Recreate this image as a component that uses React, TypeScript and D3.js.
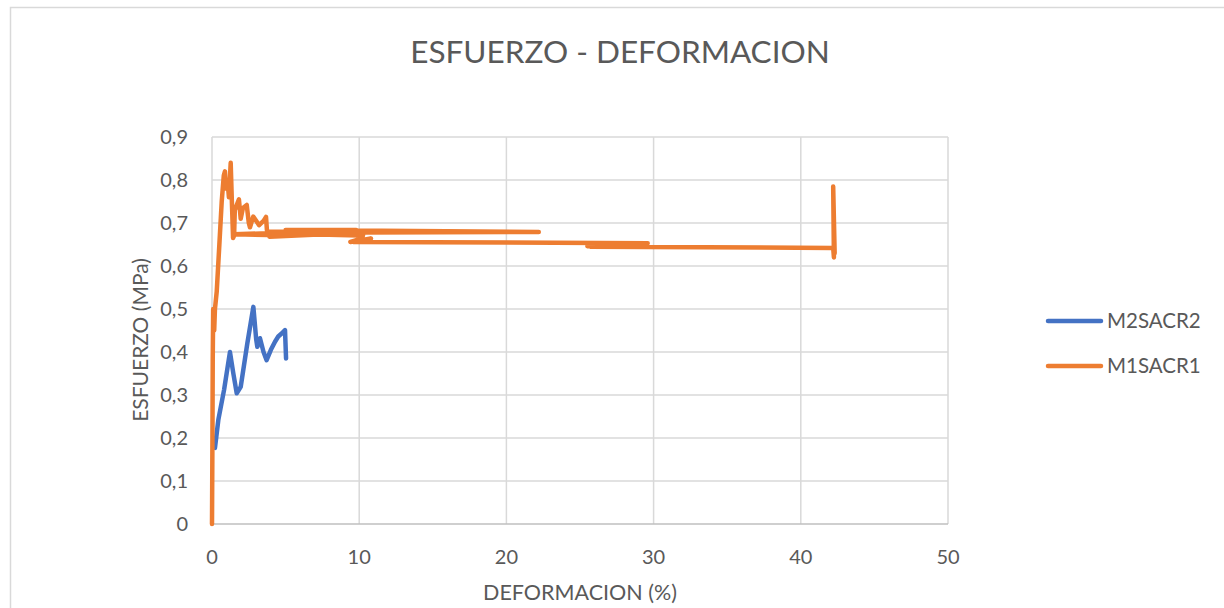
import React from 'react';
import * as d3 from 'd3';

// deformacion (%) / esfuerzo (MPa)
const m2x = [0.2, 0.43, 0.82, 1.22, 1.45, 1.68, 1.95, 2.4, 2.81, 3.0, 3.08, 3.26, 3.5, 3.71, 4.0, 4.28, 4.5, 4.73, 4.96, 5.03];
const m2y = [0.177, 0.242, 0.312, 0.4, 0.35, 0.304, 0.319, 0.42, 0.505, 0.43, 0.412, 0.432, 0.4, 0.381, 0.405, 0.424, 0.436, 0.443, 0.451, 0.385];

const m1x = [0, 0.03, 0.05, 0.08, 0.12, 0.15, 0.2, 0.32, 0.5, 0.66, 0.8, 0.88, 0.95, 1.05, 1.15, 1.27, 1.35, 1.43, 1.5, 1.55, 1.83, 1.95, 2.1, 2.36, 2.5, 2.58, 2.8, 3.0, 3.2, 3.5, 3.67, 3.73, 3.8, 1.5, 3.8, 10.0, 3.8, 10.2, 3.9, 9.8, 5.0, 22.2, 10.3, 10.2, 9.4, 10.8, 9.6, 29.6, 25.5, 29.3, 25.7, 42.2, 42.25, 42.2, 42.3, 42.25];
const m1y = [0, 0.2, 0.38, 0.5, 0.46, 0.45, 0.5, 0.54, 0.65, 0.75, 0.81, 0.82, 0.78, 0.8, 0.76, 0.84, 0.75, 0.665, 0.67, 0.73, 0.755, 0.71, 0.735, 0.742, 0.7, 0.69, 0.715, 0.705, 0.695, 0.705, 0.714, 0.684, 0.672, 0.674, 0.676, 0.671, 0.68, 0.678, 0.668, 0.684, 0.684, 0.679, 0.678, 0.664, 0.656, 0.664, 0.656, 0.653, 0.646, 0.65, 0.645, 0.642, 0.62, 0.785, 0.63, 0.7];

const xTicks = [0, 10, 20, 30, 40, 50];
const yTicks = [0, 0.1, 0.2, 0.3, 0.4, 0.5, 0.6, 0.7, 0.8, 0.9];

const series = [
  { name: 'M2SACR2', xs: m2x, ys: m2y, color: '#4472C4' },
  { name: 'M1SACR1', xs: m1x, ys: m1y, color: '#ED7D31' },
];

const font = 'Lato, "Open Sans", sans-serif';
const grey = '#595959';

export default function App() {
  const left = 212, right = 948, top = 137, bottom = 524;
  const x = d3.scaleLinear().domain([0, 50]).range([left, right]);
  const y = d3.scaleLinear().domain([0, 0.9]).range([bottom, top]);
  const line = d3.line<[number, number]>().x(d => x(d[0])).y(d => y(d[1]));
  const fmt = (v: number) => d3.format('.1f')(v).replace('.', ',').replace(/^0,0$/, '0');

  return (
    <svg width={1224} height={608} style={{ position: 'absolute', left: 0, top: 0, background: '#fff' }}>
      <rect x={10.5} y={7.5} width={1300} height={700} fill="#fff" stroke="#d9d9d9" strokeWidth={1.5} />
      <text x={620} y={63} textAnchor="middle" fontFamily={font} fontSize={31.5} fill={grey}>ESFUERZO - DEFORMACION</text>

      {yTicks.map(t => (
        <g key={'y' + t}>
          {t > 0 && <line x1={left} x2={right} y1={y(t)} y2={y(t)} stroke="#d9d9d9" strokeWidth={1.5} />}
          <text x={188} y={y(t)} dy="0.36em" textAnchor="end" fontFamily={font} fontSize={20} fill={grey}>{fmt(t)}</text>
        </g>
      ))}
      {xTicks.map(t => (
        <g key={'x' + t}>
          <line x1={x(t)} x2={x(t)} y1={top} y2={bottom} stroke="#d9d9d9" strokeWidth={1.5} />
          <text x={x(t)} y={564} textAnchor="middle" fontFamily={font} fontSize={20} fill={grey}>{t}</text>
        </g>
      ))}
      <line x1={left} x2={right} y1={bottom} y2={bottom} stroke="#bfbfbf" strokeWidth={1.5} />

      <text x={580} y={600} textAnchor="middle" fontFamily={font} fontSize={21.5} fill={grey}>DEFORMACION (%)</text>
      <text transform="translate(148,340) rotate(-90)" textAnchor="middle" fontFamily={font} fontSize={21} fill={grey}>ESFUERZO (MPa)</text>

      {series.map(s => (
        <path key={s.name} d={line(s.xs.map((v, i) => [v, s.ys[i]]) as [number, number][]) || ''}
          fill="none" stroke={s.color} strokeWidth={4.5} strokeLinejoin="round" strokeLinecap="round" />
      ))}

      {series.map((s, i) => (
        <g key={'lg' + s.name} transform={`translate(1048,${321 + i * 45})`}>
          <line x1={0} x2={53} y1={0} y2={0} stroke={s.color} strokeWidth={4.5} strokeLinecap="round" />
          <text x={59} y={0} dy="0.36em" fontFamily={font} fontSize={20.5} fill={grey}>{s.name}</text>
        </g>
      ))}
    </svg>
  );
}
